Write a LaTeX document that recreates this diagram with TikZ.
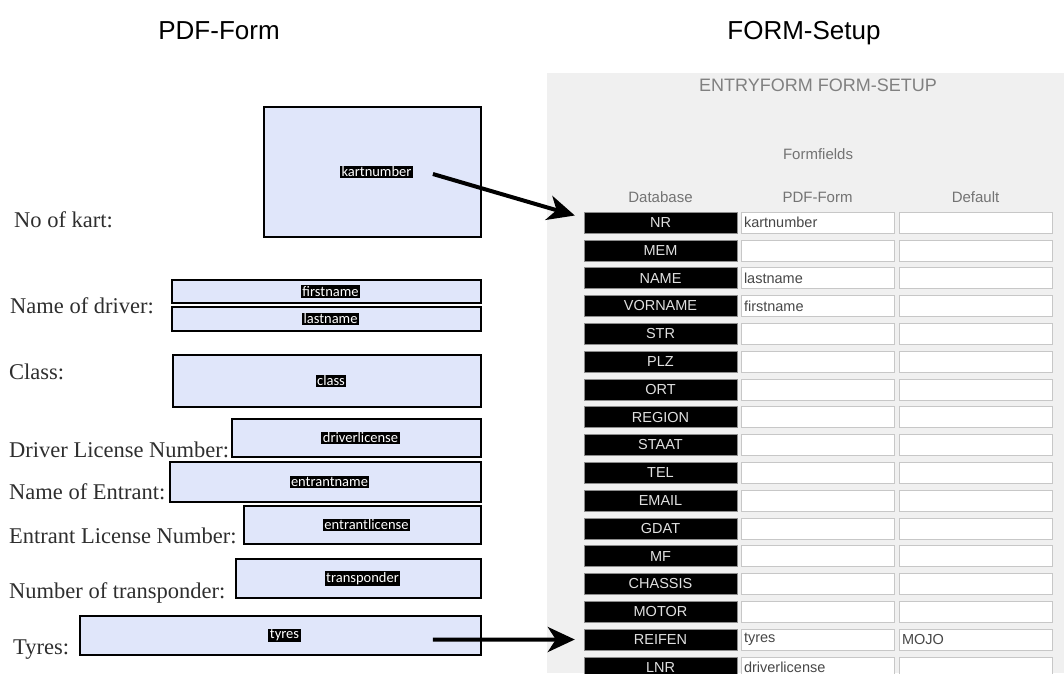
\documentclass[tikz,border=0pt]{standalone}
\usepackage{fontspec}
\setmainfont{Liberation Sans}
\newfontfamily\formserif{Liberation Serif}
\newfontfamily\tagfont{Carlito}
\usetikzlibrary{arrows.meta}
\definecolor{formblue}{RGB}{224,230,250}
\definecolor{panelgray}{RGB}{240,240,240}

\begin{document}
\begin{tikzpicture}[x=1pt, y=-1pt,
    title/.style={font=\fontsize{26}{26}\selectfont, anchor=base},
    question/.style={font=\formserif\fontsize{22.5}{22.5}\selectfont, text=black!82, anchor=base west, inner sep=0pt},
    formbox/.style={draw, line width=1.8pt, fill=formblue, inner sep=0pt},
    tag/.style={fill=black, text=white, font=\tagfont\fontsize{14.5}{14.5}\selectfont, inner xsep=1.5pt, inner ysep=1pt},
    head/.style={text=black!55, font=\fontsize{15}{15}\selectfont},
    dbcell/.style={fill=black, draw=black!45, text=white!88!black, minimum width=153pt, minimum height=21pt, inner sep=0pt, font=\fontsize{14.5}{14.5}\selectfont},
    fieldcell/.style={fill=white, draw=black!22, text=black!72, minimum height=21pt, text width=147pt, inner xsep=3pt, inner ysep=0pt, align=left, font=\fontsize{14.5}{14.5}\selectfont},
    bigarrow/.style={line width=4pt, -{Stealth[length=27pt, width=25pt, inset=8pt]}}]
    \clip (0,0) rectangle (1064,673);

    % titles
    \node[title] (ttl-pdf) at (219,39) {PDF-Form};
    \node[title] (ttl-setup) at (804,39) {FORM-Setup};

    % the pdf form
    \node[question] (q-kart) at (14,227) {No of kart:};
    \node[question] (q-driver) at (10,313) {Name of driver:};
    \node[question] (q-class) at (9,379) {Class:};
    \node[question] (q-dlic) at (9,457) {Driver License Number:};
    \node[question] (q-entrant) at (9,499) {Name of Entrant:};
    \node[question] (q-elic) at (9,543) {Entrant License Number:};
    \node[question] (q-transp) at (9,598) {Number of transponder:};
    \node[question] (q-tyres) at (13,654) {Tyres:};

    \foreach \nm/\l/\t/\b in {kartnumber/264/107/237, firstname/172/280/303, lastname/172/307/331,
        class/173/355/407, driverlicense/232/419/457, entrantname/170/462/502,
        entrantlicense/244/506/544, transponder/236/559/598, tyres/80/616/655}
    {
        \node[formbox, minimum width={481-\l}, minimum height={\b-\t}] (box-\nm) at ({(481+\l)/2},{(\t+\b)/2}) {};
        \node[tag] (tag-\nm) at ([xshift=4pt]box-\nm.center) {\nm};
    }

    % the setup panel
    \fill[panelgray] (547,73) rectangle (1064,673);
    \node[text=black!50, font=\fontsize{18}{18}\selectfont] (ttl-entry) at (818,85) {ENTRYFORM FORM-SETUP};
    \node[head] (ttl-fields) at (818,154) {Formfields};
    \node[head] (h-db) at (660.5,197) {Database};
    \node[head] (h-pf) at (817.5,197) {PDF-Form};
    \node[head] (h-df) at (975.5,197) {Default};

    \foreach \db/\pf/\df [count=\i] in {NR/kartnumber/, MEM//, NAME/lastname/, VORNAME/firstname/,
        STR//, PLZ//, ORT//, REGION//, STAAT//, TEL//, EMAIL//, GDAT//, MF//, CHASSIS//, MOTOR//,
        REIFEN/tyres/MOJO, LNR/driverlicense/}
    {
        \pgfmathsetmacro\ry{222.5+(\i-1)*27.8}
        \node[dbcell] (db\i) at (660.5,\ry) {\db};
        \node[fieldcell] (pf\i) at (817.5,\ry) {\pf};
        \node[fieldcell] (df\i) at (975.5,\ry) {\df};
    }

    % arrows
    \draw[bigarrow] ([xshift=-49pt,yshift=-2pt]box-kartnumber.east) -- ([xshift=-9pt,yshift=7pt]db1.west);
    \draw[bigarrow] ([xshift=-49pt,yshift=-4pt]box-tyres.east) -- ([xshift=-9pt]db16.west);
\end{tikzpicture}
\end{document}
